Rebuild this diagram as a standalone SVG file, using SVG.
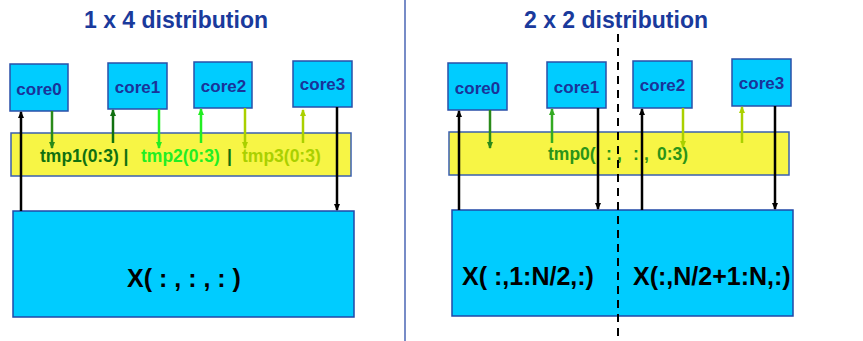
<svg xmlns="http://www.w3.org/2000/svg" width="863" height="341" viewBox="0 0 863 341">
<style>
.core{fill:#00ccff;stroke:#2a4fa8;stroke-width:1.5}
.bar{fill:#f7f545;stroke:#3a5fb0;stroke-width:1.5}
.big{fill:#00ccff;stroke:#2048a8;stroke-width:1.5}
.ct{font-family:"Liberation Sans",Arial,sans-serif;font-weight:bold;font-size:17px;fill:#1a3399}
.tt{font-family:"Liberation Sans",Arial,sans-serif;font-weight:bold;font-size:23px;fill:#1a3a9c}
.bt{font-family:"Liberation Sans",Arial,sans-serif;font-weight:bold;font-size:25px;fill:#000}
.mt{font-family:"Liberation Sans",Arial,sans-serif;font-weight:bold;font-size:17.5px;white-space:pre}
.c line{stroke-width:2.5;fill:none}
</style>
<defs>
<marker id="mk" markerUnits="userSpaceOnUse" markerWidth="7" markerHeight="6" refX="6" refY="3" orient="auto"><path d="M0,0 L7,3 L0,6 z" fill="#000"/></marker>
<marker id="mg" markerUnits="userSpaceOnUse" markerWidth="7" markerHeight="6" refX="6" refY="3" orient="auto"><path d="M0,0 L7,3 L0,6 z" fill="#2a8a1a"/></marker>
<marker id="md" markerUnits="userSpaceOnUse" markerWidth="7" markerHeight="6" refX="6" refY="3" orient="auto"><path d="M0,0 L7,3 L0,6 z" fill="#107010"/></marker>
<marker id="mb" markerUnits="userSpaceOnUse" markerWidth="7" markerHeight="6" refX="6" refY="3" orient="auto"><path d="M0,0 L7,3 L0,6 z" fill="#22ee22"/></marker>
<marker id="my" markerUnits="userSpaceOnUse" markerWidth="7" markerHeight="6" refX="6" refY="3" orient="auto"><path d="M0,0 L7,3 L0,6 z" fill="#aad000"/></marker>
<marker id="mm" markerUnits="userSpaceOnUse" markerWidth="7" markerHeight="6" refX="6" refY="3" orient="auto"><path d="M0,0 L7,3 L0,6 z" fill="#33aa22"/></marker>
</defs>
<rect width="863" height="341" fill="#fff"/>
<line x1="405" y1="0" x2="405" y2="341" stroke="#4a66b5" stroke-width="1.5"/>
<text class="tt" x="176" y="28" text-anchor="middle">1 x 4 distribution</text>
<text class="tt" x="616" y="28" text-anchor="middle">2 x 2 distribution</text>

<g id="L-tmp">
<rect class="bar" x="11" y="133" width="340" height="43"/>
<text class="mt" y="162"><tspan x="40" fill="#107010">tmp1(0:3) |</tspan><tspan x="141" fill="#22ee22">tmp2(0:3)</tspan><tspan x="227" fill="#107010">|</tspan><tspan x="242" fill="#aad000">tmp3(0:3)</tspan></text>
</g>
<g id="L-X">
<rect class="big" x="13" y="211" width="341" height="106"/>
<text class="bt" x="184" y="287" text-anchor="middle">X( : , : , : )</text>
</g>
<g id="L-core0"><rect class="core" x="10" y="64" width="58" height="47"/><text class="ct" x="39" y="95" text-anchor="middle">core0</text></g>
<g id="L-core1"><rect class="core" x="108" y="63" width="59" height="46"/><text class="ct" x="137.5" y="93" text-anchor="middle">core1</text></g>
<g id="L-core2"><rect class="core" x="194" y="62" width="58" height="46"/><text class="ct" x="223.5" y="92" text-anchor="middle">core2</text></g>
<g id="L-core3"><rect class="core" x="293" y="61" width="59" height="46"/><text class="ct" x="322.5" y="90" text-anchor="middle">core3</text></g>

<g id="R-tmp">
<rect class="bar" x="449" y="132" width="340" height="43"/>
<text class="mt" y="160" fill="#2b9418"><tspan x="548">tmp0(</tspan><tspan x="606">:</tspan><tspan x="617">,</tspan><tspan x="633">:</tspan><tspan x="644">,</tspan><tspan x="657">0:3)</tspan></text>
</g>
<g id="R-X">
<rect class="big" x="452" y="210" width="341" height="106"/>
<text class="bt" x="462" y="285">X( :,1:N/2,:)</text>
<text class="bt" x="633" y="285">X(:,N/2+1:N,:)</text>
</g>
<g id="R-core0"><rect class="core" x="448" y="63" width="59" height="47"/><text class="ct" x="477.5" y="94" text-anchor="middle">core0</text></g>
<g id="R-core1"><rect class="core" x="547" y="62" width="59" height="46"/><text class="ct" x="576.5" y="93" text-anchor="middle">core1</text></g>
<g id="R-core2"><rect class="core" x="633" y="61" width="59" height="47"/><text class="ct" x="662.5" y="91" text-anchor="middle">core2</text></g>
<g id="R-core3"><rect class="core" x="732" y="59" width="59" height="47"/><text class="ct" x="761.5" y="89" text-anchor="middle">core3</text></g>

<g id="connectors" class="c">
<line x1="21" y1="211" x2="21" y2="112" stroke="#000" marker-end="url(#mk)"/>
<line x1="337" y1="107" x2="337" y2="210" stroke="#000" marker-end="url(#mk)"/>
<line x1="52" y1="111" x2="52" y2="148" stroke="#2a8a1a" marker-end="url(#mg)"/>
<line x1="113" y1="143" x2="113" y2="110" stroke="#107010" marker-end="url(#md)"/>
<line x1="159" y1="109" x2="159" y2="148" stroke="#22ee22" marker-end="url(#mb)"/>
<line x1="201" y1="143" x2="201" y2="109" stroke="#22ee22" marker-end="url(#mb)"/>
<line x1="245" y1="108" x2="245" y2="148" stroke="#aad000" marker-end="url(#my)"/>
<line x1="303" y1="143" x2="303" y2="110" stroke="#aad000" marker-end="url(#my)"/>

<line x1="459" y1="210" x2="459" y2="111" stroke="#000" marker-end="url(#mk)"/>
<line x1="490" y1="110" x2="490" y2="148" stroke="#2a8a1a" marker-end="url(#mg)"/>
<line x1="552" y1="143" x2="552" y2="109" stroke="#33aa22" marker-end="url(#mm)"/>
<line x1="598" y1="108" x2="598" y2="209" stroke="#000" marker-end="url(#mk)"/>
<line x1="642" y1="210" x2="642" y2="109" stroke="#000" marker-end="url(#mk)"/>
<line x1="683" y1="108" x2="683" y2="147" stroke="#aad000" marker-end="url(#my)"/>
<line x1="742" y1="143" x2="742" y2="107" stroke="#aad000" marker-end="url(#my)"/>
<line x1="775" y1="106" x2="775" y2="209" stroke="#000" marker-end="url(#mk)"/>
</g>
<line x1="618" y1="34" x2="618" y2="338" stroke="#000" stroke-width="2" stroke-dasharray="8,6"/>
</svg>
